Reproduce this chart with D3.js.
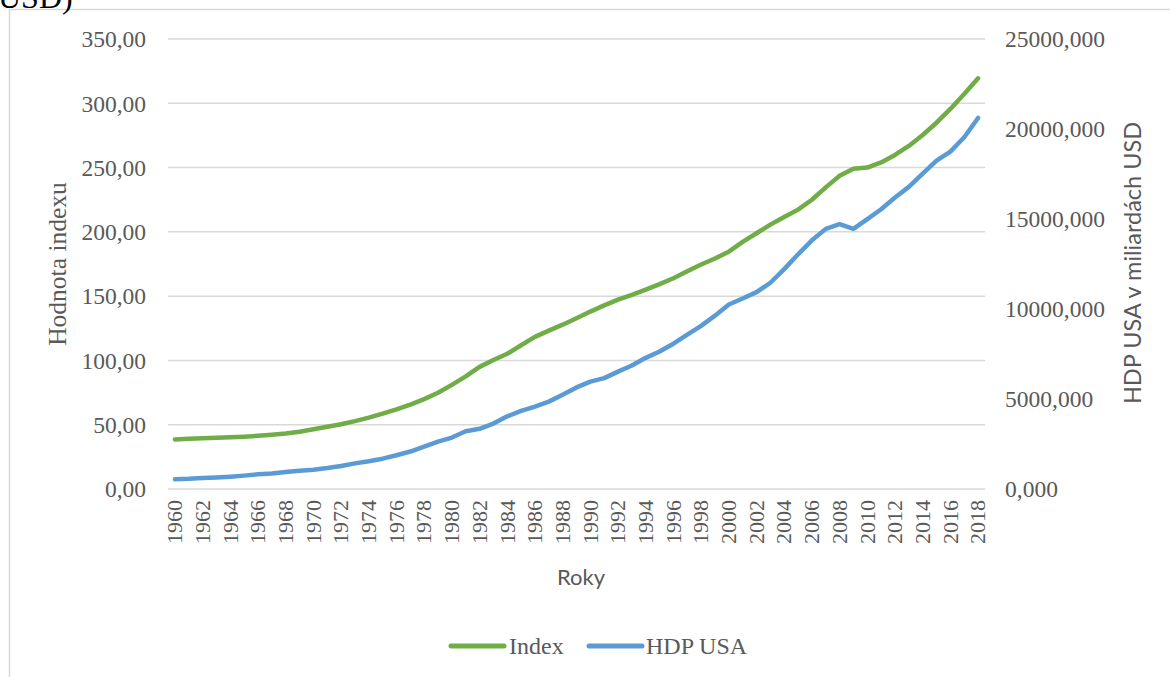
<!DOCTYPE html>
<html>
<head>
<meta charset="utf-8">
<script src="https://cdn.jsdelivr.net/npm/d3@7"></script>
<style>
  html, body { margin: 0; padding: 0; background: #ffffff; }
  svg { display: block; }
</style>
</head>
<body>
<svg id="chart" width="1170" height="677"></svg>
<script>
// Years on the category axis
const years = d3.range(1960, 2019);

// Index value (left axis)
const indexValues = [
  38.5, 39.0, 39.4, 39.8, 40.2, 40.7, 41.4, 42.2, 43.2, 44.6,
  46.4, 48.4, 50.4, 52.8, 55.5, 58.6, 62.0, 65.7, 69.9, 74.9,
  81.0, 87.6, 95.0, 100.3, 105.2, 111.8, 118.3, 123.2, 127.8, 132.8,
  138.0, 142.8, 147.3, 151.0, 155.0, 159.3, 163.9, 169.3, 174.6, 179.3,
  184.6, 192.2, 198.9, 205.6, 211.6, 217.3, 225.0, 234.6, 243.6, 249.0,
  250.0, 254.0, 259.8, 266.8, 275.3, 284.9, 295.6, 307.2, 319.4
];

// US GDP in billions of USD (right axis)
const gdpValues = [
  543, 563, 605, 638, 686, 743, 815, 862, 943, 1019,
  1073, 1165, 1280, 1425, 1545, 1684, 1873, 2082, 2352, 2627,
  2857, 3207, 3343, 3634, 4037, 4339, 4580, 4855, 5236, 5642,
  5963, 6158, 6520, 6859, 7287, 7640, 8073, 8578, 9063, 9631,
  10252, 10582, 10936, 11458, 12214, 13037, 13815, 14452, 14713, 14449,
  14992, 15543, 16197, 16785, 17527, 18238, 18745, 19543, 20612
];

const leftTicks = [0, 50, 100, 150, 200, 250, 300, 350];
const rightTicks = [0, 5000, 10000, 15000, 20000, 25000];
const seriesNames = ["Index", "HDP USA"];
const seriesColors = ["#70ad47", "#5b9bd5"];

const svg = d3.select("#chart");
const W = 1170, H = 677;
const plot = { left: 168, right: 985, top: 39, bottom: 489 };

const serif = "'Liberation Serif', 'Times New Roman', serif";
const sans = "Lato, 'Open Sans', sans-serif";
const textColor = "#595959";

// Outer chart frame
svg.append("rect")
  .attr("x", 9.5).attr("y", 9.5)
  .attr("width", W + 20).attr("height", H + 20)
  .attr("fill", "none").attr("stroke", "#d9d9d9").attr("stroke-width", 1.5);

// Tail of the caption text above the chart
svg.append("text")
  .attr("x", -2).attr("y", 8)
  .attr("font-family", serif).attr("font-size", 32)
  .attr("fill", "#000").text("USD)");

const x = d3.scaleBand().domain(years).range([plot.left, plot.right]);
const yL = d3.scaleLinear().domain([0, 350]).range([plot.bottom, plot.top]);
const yR = d3.scaleLinear().domain([0, 25000]).range([plot.bottom, plot.top]);

// Horizontal gridlines
svg.append("g")
  .selectAll("line").data(leftTicks).join("line")
  .attr("x1", plot.left).attr("x2", plot.right)
  .attr("y1", d => yL(d)).attr("y2", d => yL(d))
  .attr("stroke", "#d9d9d9").attr("stroke-width", 1.5);

const fmt2 = d => d3.format(".2f")(d).replace(".", ",");
const fmt3 = d => d3.format(".3f")(d).replace(".", ",");

// Left axis
const gL = svg.append("g")
  .attr("transform", `translate(${plot.left - 22},0)`)
  .call(d3.axisLeft(yL).tickValues(leftTicks).tickFormat(fmt2).tickSize(0).tickPadding(0));
gL.select(".domain").remove();
gL.selectAll("text")
  .attr("font-family", serif).attr("font-size", 23.5).attr("fill", textColor)
  .attr("dy", "0.33em");

// Right axis
const gR = svg.append("g")
  .attr("transform", `translate(${plot.right + 20},0)`)
  .call(d3.axisRight(yR).tickValues(rightTicks).tickFormat(fmt3).tickSize(0).tickPadding(0));
gR.select(".domain").remove();
gR.selectAll("text")
  .attr("font-family", serif).attr("font-size", 23.5).attr("fill", textColor)
  .attr("dy", "0.33em");

// Bottom axis with every second year, labels rotated
const gB = svg.append("g")
  .attr("transform", `translate(0,${plot.bottom + 11})`)
  .call(d3.axisBottom(x).tickValues(years.filter(y => (y - 1960) % 2 === 0)).tickSize(0).tickPadding(0));
gB.select(".domain").remove();
gB.selectAll("text")
  .attr("font-family", serif).attr("font-size", 22).attr("fill", textColor)
  .attr("transform", "rotate(-90)")
  .attr("text-anchor", "end")
  .attr("x", 0).attr("y", 0).attr("dy", "0.33em");

// Axis titles
svg.append("text")
  .attr("transform", `translate(66,264) rotate(-90)`)
  .attr("text-anchor", "middle")
  .attr("font-family", serif).attr("font-size", 25.5).attr("fill", textColor)
  .text("Hodnota indexu");

svg.append("text")
  .attr("transform", `translate(1141,263) rotate(-90)`)
  .attr("text-anchor", "middle")
  .attr("font-family", sans).attr("font-size", 23.5).attr("fill", textColor)
  .text("HDP USA v miliardách USD");

svg.append("text")
  .attr("x", 581).attr("y", 585)
  .attr("text-anchor", "middle")
  .attr("font-family", sans).attr("font-size", 22).attr("fill", textColor)
  .text("Roky");

// Series lines
const cx = d => x(d) + x.bandwidth() / 2;
const lineL = d3.line().x((d, i) => cx(years[i])).y(d => yL(d));
const lineR = d3.line().x((d, i) => cx(years[i])).y(d => yR(d));

svg.append("path").datum(gdpValues)
  .attr("d", lineR).attr("fill", "none")
  .attr("stroke", seriesColors[1]).attr("stroke-width", 4.5)
  .attr("stroke-linecap", "round").attr("stroke-linejoin", "round");

svg.append("path").datum(indexValues)
  .attr("d", lineL).attr("fill", "none")
  .attr("stroke", seriesColors[0]).attr("stroke-width", 4.5)
  .attr("stroke-linecap", "round").attr("stroke-linejoin", "round");

// Legend
const legendItems = [
  { name: seriesNames[0], color: seriesColors[0], x0: 451, tx: 509 },
  { name: seriesNames[1], color: seriesColors[1], x0: 589, tx: 646 }
];
const lg = svg.append("g");
legendItems.forEach(it => {
  lg.append("line")
    .attr("x1", it.x0).attr("x2", it.x0 + 53)
    .attr("y1", 646).attr("y2", 646)
    .attr("stroke", it.color).attr("stroke-width", 5).attr("stroke-linecap", "round");
  lg.append("text")
    .attr("x", it.tx).attr("y", 654)
    .attr("font-family", serif).attr("font-size", 24).attr("fill", textColor)
    .text(it.name);
});
</script>
</body>
</html>
